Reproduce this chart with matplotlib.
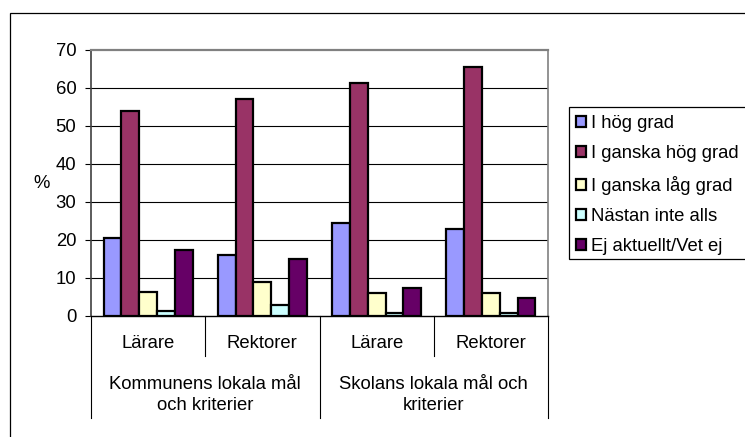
import matplotlib
matplotlib.use("Agg")
import matplotlib.pyplot as plt
from matplotlib.patches import Patch, Rectangle
import numpy as np

plt.rcParams["font.family"] = ["Liberation Sans", "DejaVu Sans"]

# data
sub_labels = ["Lärare", "Rektorer", "Lärare", "Rektorer"]
group_labels = ["Kommunens lokala mål\noch kriterier", "Skolans lokala mål och\nkriterier"]
series = ["I hög grad", "I ganska hög grad", "I ganska låg grad",
          "Nästan inte alls", "Ej aktuellt/Vet ej"]
hog = [20.6, 16.0, 24.6, 22.8]
ganska_hog = [54.0, 57.0, 61.4, 65.4]
ganska_lag = [6.4, 9.0, 6.0, 6.0]
nastan_inte = [1.3, 2.9, 0.9, 0.7]
ej_aktuellt = [17.5, 14.9, 7.3, 4.8]
values = [hog, ganska_hog, ganska_lag, nastan_inte, ej_aktuellt]
colors = ["#9999FF", "#993366", "#FFFFCC", "#CCFFFF", "#660066"]

W, H = 745, 437
fig = plt.figure(figsize=(W / 100, H / 100), dpi=100)
FS = 13.3

# outer chart border (runs off the right/bottom edge)
fig.patches.append(Rectangle((10 / W, -0.2), 1.2, 1 - 13 / H + 0.2,
                             transform=fig.transFigure, fill=False,
                             edgecolor="black", lw=0.9))

L, R, T, B = 91, 548, 50, 316
ax = fig.add_axes([L / W, 1 - B / H, (R - L) / W, (B - T) / H])

x = np.arange(len(sub_labels))
bw = 0.1558
for k, (vals, c) in enumerate(zip(values, colors)):
    ax.bar(x - 2 * bw + k * bw, vals, width=bw, color=c,
           edgecolor="black", linewidth=1.6, label=series[k], zorder=3)

ax.set_xlim(-0.5, 3.5)
ax.set_ylim(0, 70)
ax.set_yticks(range(0, 71, 10))
ax.tick_params(axis="y", direction="out", length=4.5, width=0.8, pad=6,
               labelsize=FS)
ax.set_xticks([])
for y in range(10, 70, 10):
    ax.axhline(y, color="black", lw=0.8, zorder=1)

ax.spines["top"].set_color("#808080")
ax.spines["top"].set_linewidth(1.6)
ax.spines["right"].set_color("#808080")
ax.spines["right"].set_linewidth(1.2)
ax.spines["left"].set_color("#404040")
ax.spines["left"].set_linewidth(1.2)
ax.spines["bottom"].set_color("black")
ax.spines["bottom"].set_linewidth(1.0)

# category axis: two levels of dividers and labels
tr = ax.get_xaxis_transform()
ph = B - T
short = -40 / ph
long = -102 / ph
for xd in [0.5, 2.5]:
    ax.plot([xd, xd], [0, short], transform=tr, color="black", lw=0.8,
            clip_on=False)
for xd in [-0.5, 1.5, 3.5]:
    ax.plot([xd, xd], [0, long], transform=tr, color="black", lw=0.8,
            clip_on=False)
for xi, lab in zip(x, sub_labels):
    ax.text(xi, -27 / ph, lab, transform=tr, ha="center", va="center",
            fontsize=FS)
for gi, lab in enumerate(group_labels):
    ax.text(2 * gi + 0.5, -79 / ph, lab, transform=tr, ha="center",
            va="center", fontsize=FS, linespacing=1.3)

fig.text(42 / W, 1 - 183 / H, "%", ha="center", va="center", fontsize=FS)

# legend with a frame that runs off the right edge
fig.patches.append(Rectangle((569 / W, 1 - 259 / H), 0.5, (259 - 107) / H,
                             transform=fig.transFigure, facecolor="white",
                             edgecolor="black", lw=0.9))
handles = [Patch(facecolor=c, edgecolor="black", linewidth=1.6, label=s)
           for c, s in zip(colors, series)]
fig.legend(handles=handles, loc="upper left",
           bbox_to_anchor=(576 / W, 1 - 115 / H), frameon=False,
           fontsize=FS, handlelength=0.55, handleheight=0.55,
           handletextpad=0.25, labelspacing=0.72, borderpad=0,
           borderaxespad=0)

fig.savefig("out.png", dpi=100)
